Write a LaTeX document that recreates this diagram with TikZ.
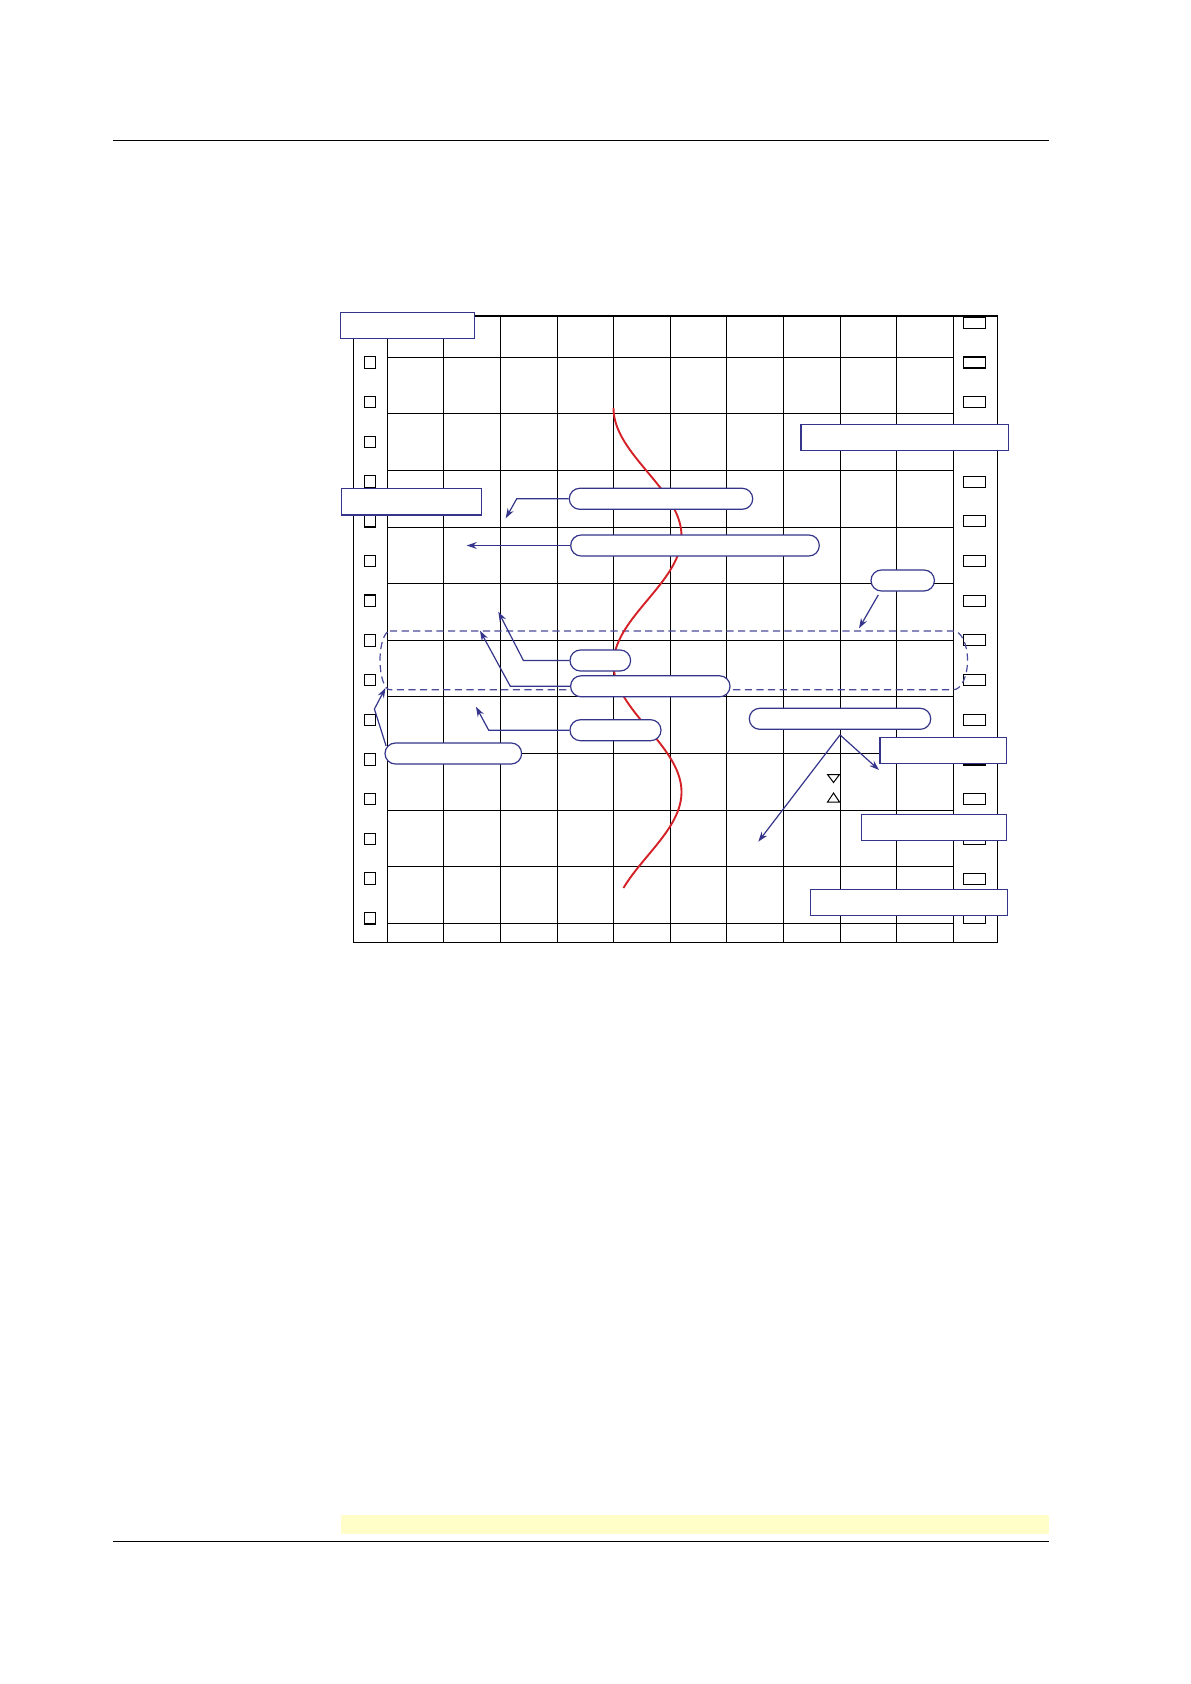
\documentclass[tikz,border=0pt]{standalone}
\usetikzlibrary{arrows.meta}
\definecolor{navy}{HTML}{35358C}
\definecolor{dashc}{HTML}{4B4B9B}
\definecolor{redc}{HTML}{D42027}
\definecolor{yel}{HTML}{FFFDC8}
\begin{document}
\begin{tikzpicture}[x=0.5pt,y=-0.5pt,
  gridline/.style={black, line width=0.55pt},
  pill/.style={draw=navy, fill=white, line width=0.6pt, rounded corners=5.2pt, inner sep=0pt, minimum height=10.5pt},
  lbox/.style={draw=navy, fill=white, line width=0.6pt, inner sep=0pt, minimum height=13pt},
  arr/.style={navy, line width=0.6pt, -{Stealth[length=5pt,width=3.4pt]}},
  dashbox/.style={dashc, line width=0.6pt, dash pattern=on 3.6pt off 2.2pt}]
% page
\fill[white] (0,0) rectangle (1190,1684);
\useasboundingbox (0,0) rectangle (1190,1684);
% header / footer rules and yellow band
\draw[black, line width=0.8pt] (113,140.7) -- (1049,140.7);
\fill[yel] (341,1514.5) rectangle (1049,1533.5);
\draw[black, line width=0.8pt] (113,1541.3) -- (1049,1541.3);
% grid
\foreach \x in {387.3,443.9,500.5,557.1,613.7,670.3,726.9,783.5,840.1,896.7,953.3}
  \draw[gridline] (\x,316) -- (\x,942.3);
\foreach \y in {357.3,413.9,470.5,527.1,583.7,640.3,696.9,753.5,810.1,866.7,923.3}
  \draw[gridline] (387.3,\y) -- (953.3,\y);
\draw[gridline] (353.3,316) rectangle (997.3,942.3);
% sprocket holes
\foreach \k [evaluate=\k as \yy using 322.8+39.7*\k] in {0,...,15}{
  \draw[gridline] (364.3,{\yy-5.7}) rectangle (375.7,{\yy+5.7});
  \draw[gridline] (963.3,{\yy-5.5}) rectangle (985.3,{\yy+5.5});
}
% dashed group
\draw[dashbox] (390,631) -- (953.5,631) arc[start angle=-90, end angle=90, x radius=14, y radius=29.35]
  -- (390,689.7) arc[start angle=90, end angle=270, x radius=10, y radius=29.35] -- cycle;
% red trace
\draw[redc, line width=0.95pt] plot[domain=0:3.75, samples=140, smooth, variable=\t]
  ({647.5-34*cos(180*\t)},{408+128*\t});
% pills
\node[pill, minimum width=91.7pt] (P1) at (661,498.8) {};
\node[pill, minimum width=124.3pt] (P2) at (695,545.5) {};
\node[pill, minimum width=30.3pt] (P3) at (600.3,660.5) {};
\node[pill, minimum width=79.7pt] (P4) at (650.3,686.3) {};
\node[pill, minimum width=45.5pt] (P5) at (615.5,730.2) {};
\node[pill, minimum width=68.3pt] (P6) at (453.3,753.5) {};
\node[pill, minimum width=31.7pt] (P7) at (902.7,580.5) {};
\node[pill, minimum width=90.7pt] (P8) at (840,718.8) {};
% label boxes
\node[lbox, minimum width=67pt] (L1) at (407.3,325.3) {};
\node[lbox, minimum width=70pt, minimum height=13.3pt] (L2) at (411.3,501.7) {};
\node[lbox, minimum width=103.7pt] (L3) at (904.7,437.3) {};
\node[lbox, minimum width=63.3pt] (L4) at (943.3,750.3) {};
\node[lbox, minimum width=72.7pt] (L5) at (934,827.3) {};
\node[lbox, minimum width=98.7pt] (L6) at (909,902.3) {};
% arrow end points
\coordinate (t1) at (505.7,518.3);
\coordinate (t2) at (466.7,545.5);
\coordinate (t3) at (498.3,611.7);
\coordinate (t4) at (480,630.7);
\coordinate (t5) at (476,706.7);
\coordinate (t6) at (385.5,688);
\coordinate (t7) at (859,628.3);
\coordinate (t8a) at (879,770);
\coordinate (t8b) at (758.3,841.7);
\coordinate (apex) at ([shift={(0,5)}]P8.south);
% arrows
\draw[arr] (P1.west) -- ++(-52,0) -- (t1);
\draw[arr] (P2.west) -- (t2);
\draw[arr] (P3.west) -- ++(-46,0) -- (t3);
\draw[arr] (P4.west) -- ++(-59.7,0) -- (t4);
\draw[arr] (P5.west) -- ++(-80.7,0) -- (t5);
\draw[arr] ([shift={(1.7,-7.5)}]P6.west) -- ++(-11.7,-37) -- (t6);
\draw[arr] ([shift={(-24.4,3.3)}]P7.south) -- (t7);
\draw[arr] (apex) -- (t8a);
\draw[arr] (apex) -- (t8b);
% small markers
\draw[black, line width=0.5pt] (827.5,774.5) -- (839.5,774.5) -- (833.5,782.5) -- cycle;
\draw[black, line width=0.5pt] (827.5,802) -- (839.5,802) -- (833.5,793) -- cycle;
\end{tikzpicture}
\end{document}
